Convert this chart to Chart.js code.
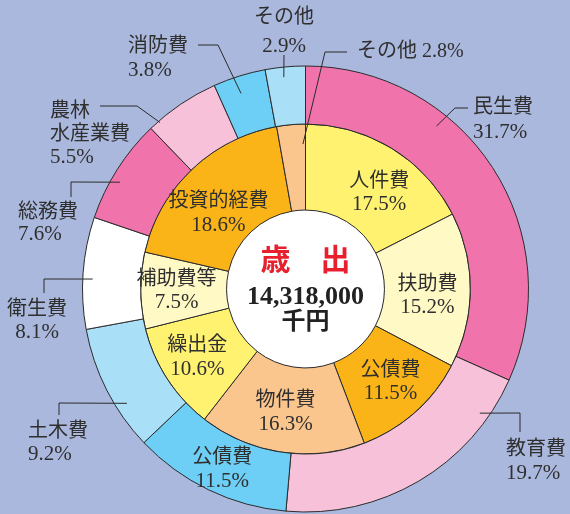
<!DOCTYPE html>
<html lang="ja">
<head>
<meta charset="utf-8">
<title>歳出</title>
<script src="https://cdn.jsdelivr.net/npm/chart.js@4.4.1/dist/chart.umd.min.js"></script>
<style>
html, body { margin: 0; padding: 0; background: #abb8dd; }
canvas { display: block; }
</style>
</head>
<body>
<canvas id="chart" width="570" height="514"></canvas>
<script>
// 歳出 by purpose (outer ring) and by type (inner ring), in %
const outerLabels = ['民生費', '教育費', '公債費', '土木費', '衛生費', '総務費', '農林水産業費', '消防費', 'その他'];
const outerValues = [31.7, 19.7, 11.5, 9.2, 8.1, 7.6, 5.5, 3.8, 2.9];
const innerLabels = ['人件費', '扶助費', '公債費', '物件費', '繰出金', '補助費等', '投資的経費', 'その他'];
const innerValues = [17.5, 15.2, 11.5, 16.3, 10.6, 7.5, 18.6, 2.8];
const centerTitle = '歳　出';
const centerAmount = '14,318,000';
const centerUnit = '千円';

const outerColors = ['#f173ab', '#f8c1da', '#6dcff5', '#aadff8', '#ffffff', '#f173ab', '#f8c1da', '#6dcff5', '#aadff8'];
const innerColors = ['#fff270', '#fff9c6', '#fbb417', '#fbc68e', '#fff270', '#fff9c6', '#fbb417', '#fbc68e'];

const FONT = '"Liberation Serif", "Noto Sans CJK JP", serif';
const NAME_FONT = `20px ${FONT}`;
const VALUE_FONT = `21px ${FONT}`;
const TEXT = '#2f2f2f';
const LINE = '#2b2b2b';

const pct = v => v.toFixed(1) + '%';

// labels drawn outside with a leader line: t = position along slice, inset = px in from outer edge
const callouts = [
    { ds: 0, i: 0, t: 0.34, inset: 14, path: [[455, 108], [468, 108]], x: 473, y: [108, 132], align: 'left' },
    { ds: 0, i: 1, t: 0.16, inset: 9, path: [[520, 413], [520, 432]], x: 506, y: [450, 473], align: 'left' },
    { ds: 0, i: 3, t: 0.33, inset: 11, path: [[59, 403], [59, 415]], x: 28, y: [432, 454], align: 'left' },
    { ds: 0, i: 4, t: 0.45, inset: 10, path: [[44, 279], [44, 293]], x: 37, y: [310, 332], align: 'center' },
    { ds: 0, i: 5, t: 0.41, inset: 9, path: [[71, 182], [71, 197]], x: 18, y: [213, 234], align: 'left' },
    { ds: 0, i: 6, t: 0.14, inset: 2, path: [[137, 106], [100, 106]], x: 50, y: [112, 135, 157], align: 'left', lines: ['農林', '水産業費'] },
    { ds: 0, i: 7, t: 0.43, inset: 17, path: [[218, 45], [198, 45]], x: 128, y: [47, 70], align: 'left' },
    { ds: 0, i: 8, t: 0.44, inset: 10, path: [[284, 55]], x: 284, y: [18, 46], align: 'center' },
    { ds: 1, i: 7, t: 0.9, inset: 20, path: [[325, 52], [347, 52]], x: 357, y: [52], align: 'left', single: true }
];

// labels drawn inside their slice, nudged from the slice centre
const insideLabels = [
    { ds: 0, i: 2, dx: 1, dy: 6 },
    { ds: 1, i: 0, dx: 10, dy: 8 },
    { ds: 1, i: 1, dx: 0, dy: 6 },
    { ds: 1, i: 2, dx: 4, dy: 2 },
    { ds: 1, i: 3, dx: -2, dy: 3 },
    { ds: 1, i: 4, dx: -6, dy: 2 },
    { ds: 1, i: 5, dx: -7, dy: 1 },
    { ds: 1, i: 6, dx: -3, dy: 13 }
];

function arcPoint(el, t, r) {
    const a = el.startAngle + (el.endAngle - el.startAngle) * t;
    return [el.x + Math.cos(a) * r, el.y + Math.sin(a) * r];
}

const labelsPlugin = {
    id: 'ringLabels',
    beforeDatasetsDraw(chart) {
        // white centre disc
        const el = chart.getDatasetMeta(1).data[0];
        const ctx = chart.ctx;
        ctx.save();
        ctx.beginPath();
        ctx.arc(el.x, el.y, el.innerRadius, 0, Math.PI * 2);
        ctx.fillStyle = '#ffffff';
        ctx.fill();
        ctx.restore();
    },
    afterDatasetsDraw(chart) {
        const ctx = chart.ctx;
        const names = [outerLabels, innerLabels];
        const values = [outerValues, innerValues];
        ctx.save();
        ctx.strokeStyle = LINE;
        ctx.lineWidth = 1;
        ctx.fillStyle = TEXT;
        ctx.textBaseline = 'middle';

        callouts.forEach(c => {
            const el = chart.getDatasetMeta(c.ds).data[c.i];
            const [sx, sy] = arcPoint(el, c.t, el.outerRadius - c.inset);
            ctx.beginPath();
            ctx.moveTo(sx, sy);
            c.path.forEach(([x, y]) => ctx.lineTo(x, y));
            ctx.stroke();
            const name = names[c.ds][c.i];
            const val = pct(values[c.ds][c.i]);
            ctx.textAlign = c.align;
            if (c.single) {
                ctx.font = NAME_FONT;
                ctx.fillText(name + ' ' + val, c.x, c.y[0]);
                return;
            }
            const lines = [...(c.lines || [name]), val];
            lines.forEach((s, k) => {
                ctx.font = k === lines.length - 1 ? VALUE_FONT : NAME_FONT;
                ctx.fillText(s, c.x, c.y[k]);
            });
        });

        ctx.textAlign = 'center';
        insideLabels.forEach(l => {
            const el = chart.getDatasetMeta(l.ds).data[l.i];
            const [mx, my] = arcPoint(el, 0.5, (el.innerRadius + el.outerRadius) / 2);
            ctx.font = NAME_FONT;
            ctx.fillText(names[l.ds][l.i], mx + l.dx, my + l.dy - 11.5);
            ctx.font = VALUE_FONT;
            ctx.fillText(pct(values[l.ds][l.i]), mx + l.dx, my + l.dy + 11.5);
        });

        // centre text
        const c = chart.getDatasetMeta(1).data[0];
        ctx.fillStyle = '#e8202e';
        ctx.font = `bold 30px ${FONT}`;
        ctx.fillText(centerTitle, c.x, c.y - 27);
        ctx.fillStyle = '#222222';
        ctx.font = `bold 26px ${FONT}`;
        ctx.fillText(centerAmount, c.x, c.y + 8);
        ctx.font = `bold 24px ${FONT}`;
        ctx.fillText(centerUnit, c.x, c.y + 34);
        ctx.restore();
    }
};

new Chart(document.getElementById('chart'), {
    type: 'doughnut',
    data: {
        labels: outerLabels,
        datasets: [
            {
                data: outerValues,
                backgroundColor: outerColors,
                borderColor: LINE,
                borderWidth: 1,
                hoverOffset: 0,
                weight: 58
            },
            {
                data: innerValues,
                backgroundColor: innerColors,
                borderColor: LINE,
                borderWidth: 1,
                hoverOffset: 0,
                weight: 86
            }
        ]
    },
    options: {
        responsive: false,
        animation: false,
        devicePixelRatio: 1,
        radius: 223,
        cutout: '35.4%',
        layout: { padding: { left: 41, top: 64, right: 0, bottom: 0 } },
        plugins: {
            legend: { display: false },
            tooltip: { enabled: false }
        },
        events: []
    },
    plugins: [labelsPlugin]
});
</script>
</body>
</html>
